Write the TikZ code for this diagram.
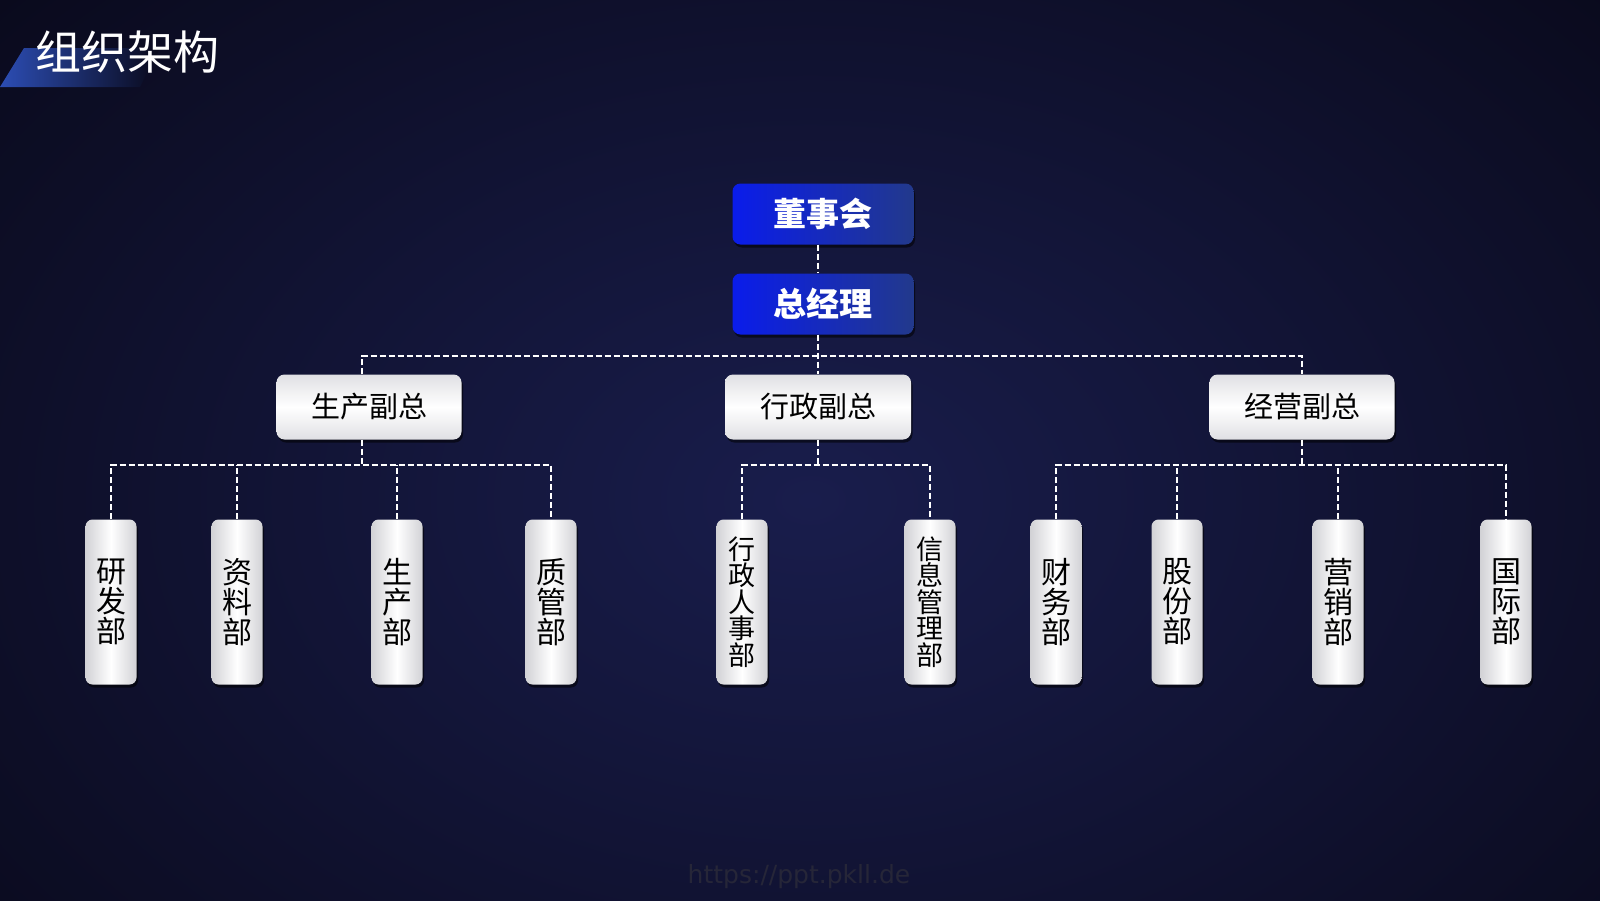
\documentclass[tikz,border=0pt]{standalone}
\usepackage{fontspec}
\setmainfont{Noto Sans CJK SC}
\newfontfamily\wmfont{DejaVu Sans}
\usetikzlibrary{shadows,calc}
\definecolor{bg}{HTML}{09091A}
\definecolor{glow}{HTML}{191D4C}
\definecolor{blueL}{HTML}{0A1CEB}
\definecolor{blueR}{HTML}{22398C}
\definecolor{titleblue}{HTML}{2C4DB4}
\definecolor{wm}{HTML}{262638}
\definecolor{boxedge}{HTML}{D2D2D6}
\definecolor{boxtop}{HTML}{E0E0E4}
\begin{document}
\begin{tikzpicture}[x=1pt,y=-1pt,
  shad/.style={drop shadow={shadow xshift=1.5pt, shadow yshift=-3pt, opacity=0.55, fill=black}},
  topbox/.style={shad, rounded corners=8pt, left color=blueL, right color=blueR, minimum width=181pt, minimum height=61pt, inner sep=0pt, text=white, font=\fontsize{33}{33}\selectfont\bfseries},
  vpbox/.style={shad, rounded corners=8pt, top color=boxtop, bottom color=boxtop, middle color=white, minimum height=65pt, inner sep=0pt, text=black, font=\fontsize{29}{29}\selectfont},
  deptbox/.style={shad, rounded corners=7pt, left color=boxedge, right color=boxedge, middle color=white, minimum width=51pt, minimum height=165pt, inner sep=0pt, align=center, text=black, font=\fontsize{30}{30}\selectfont},
  deptlong/.style={deptbox, font=\fontsize{27}{26.5}\selectfont},
  link/.style={draw=white, line width=1.5pt, dash pattern=on 6pt off 3pt}
]
\useasboundingbox (0,0) rectangle (1600,900);
\fill[bg] (0,0) rectangle (1600,900);
\begin{scope}
  \clip (0,0) rectangle (1600,900);
  \shade[inner color=glow, outer color=bg] (810,500) ellipse (1150 and 800);
\end{scope}

% title band
\shade[left color=titleblue, right color=bg] (24,48) -- (160,48) -- (140,87) -- (0,87) -- cycle;
\node[anchor=west, inner sep=0pt, text=white, font=\fontsize{46}{46}\selectfont] (title) at (35,52) {组织架构};

% watermark
\node[text=wm, font=\wmfont\fontsize{25}{25}\selectfont] (wmark) at (799,877) {https://ppt.pkll.de};

% top
\node[topbox] (board) at (823,214) {董事会};
\node[topbox] (gm) at (823,304) {总经理};

% vice presidents
\node[vpbox, minimum width=185pt] (vp1) at (369,407) {生产副总};
\node[vpbox, minimum width=186pt] (vp2) at (818,407) {行政副总};
\node[vpbox, minimum width=185pt] (vp3) at (1302,407) {经营副总};

% departments
\node[deptbox] (d1) at (111,602) {研\\发\\部};
\node[deptbox] (d2) at (237,602) {资\\料\\部};
\node[deptbox] (d3) at (397,602) {生\\产\\部};
\node[deptbox] (d4) at (551,602) {质\\管\\部};
\node[deptlong] (d5) at (742,602) {行\\政\\人\\事\\部};
\node[deptlong] (d6) at (930,602) {信\\息\\管\\理\\部};
\node[deptbox] (d7) at (1056,602) {财\\务\\部};
\node[deptbox] (d8) at (1177,602) {股\\份\\部};
\node[deptbox] (d9) at (1338,602) {营\\销\\部};
\node[deptbox] (d10) at (1506,602) {国\\际\\部};

% buses
\coordinate (busA) at (0,356);
\coordinate (busB) at (0,465);

% links
\draw[link] (vp2.north |- board.south) -- (vp2.north |- gm.north);
\draw[link] (vp2.north |- gm.south) -- (vp2.north);
\draw[link] ([xshift=-7pt]vp1.north) -- ([xshift=-7pt]vp1.north |- busA) -- (vp3.north |- busA) -- (vp3.north);

\draw[link] ([xshift=-7pt]vp1.south) -- ([xshift=-7pt]vp1.south |- busB);
\draw[link] (d1.north) -- (d1.north |- busB) -- (d4.north |- busB) -- (d4.north);
\draw[link] (d2.north) -- (d2.north |- busB);
\draw[link] (d3.north) -- (d3.north |- busB);

\draw[link] (vp2.south) -- (vp2.south |- busB);
\draw[link] (d5.north) -- (d5.north |- busB) -- (d6.north |- busB) -- (d6.north);

\draw[link] (vp3.south) -- (vp3.south |- busB);
\draw[link] (d7.north) -- (d7.north |- busB) -- (d10.north |- busB) -- (d10.north);
\draw[link] (d8.north) -- (d8.north |- busB);
\draw[link] (d9.north) -- (d9.north |- busB);
\end{tikzpicture}
\end{document}
